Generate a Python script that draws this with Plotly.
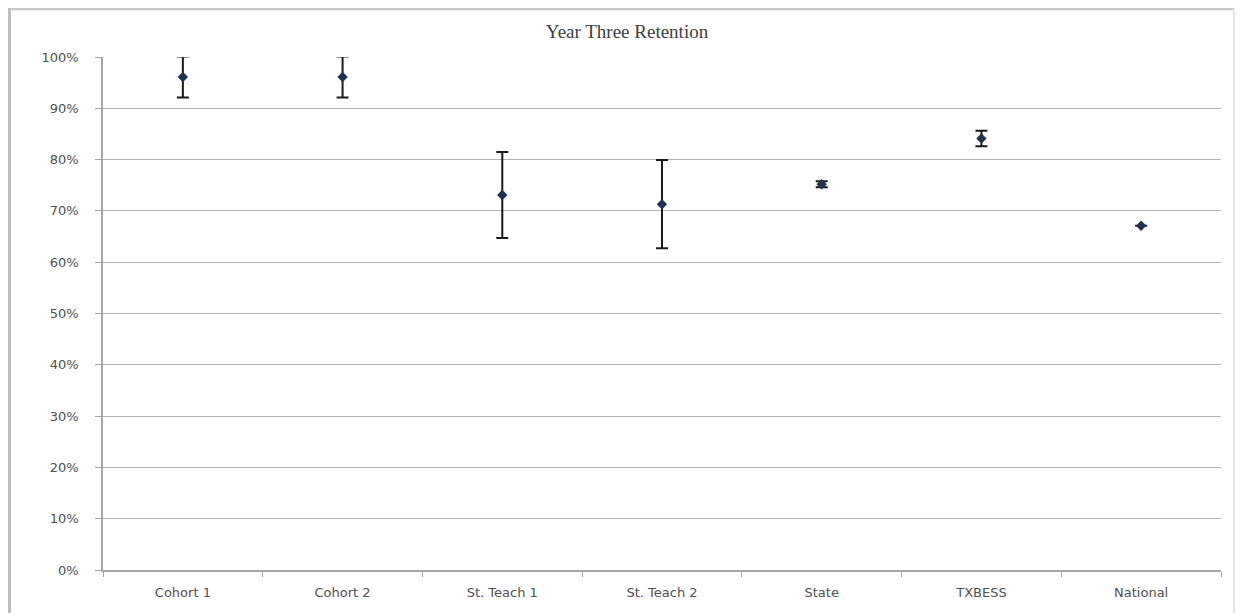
import plotly.graph_objects as go

categories = ["Cohort 1", "Cohort 2", "St. Teach 1", "St. Teach 2", "State", "TXBESS", "National"]
retention = [0.961, 0.961, 0.731, 0.713, 0.752, 0.841, 0.671]
error = [0.040, 0.040, 0.084, 0.086, 0.006, 0.015, 0.0]

fig = go.Figure()
fig.add_trace(go.Scatter(
    x=categories, y=retention, mode="markers",
    marker=dict(symbol="diamond", size=8, color="#1f3350"),
    error_y=dict(type="data", array=error, visible=True, color="#1a1a1a",
                 thickness=2, width=6),
    cliponaxis=False, showlegend=False,
))

OFF = 8  # page body margin
W, H = 1244 - OFF, 613 - OFF
L, R, T, B = 103 - OFF, 1221 - OFF, 57 - OFF, 570 - OFF
pw, ph = R - L, B - T
def fx(x): return (x - L) / pw          # figure px -> paper
def fy(y): return (B - y) / ph

fig.update_layout(
    width=W, height=H,
    margin=dict(l=L, r=W - R, t=T, b=H - B),
    paper_bgcolor="white", plot_bgcolor="white",
    title=dict(text="Year Three Retention", x=(627 - OFF) / W, xanchor="center",
               y=1 - (31 - OFF) / H, yanchor="middle",
               font=dict(family="Liberation Serif", size=19, color="#404040")),
    xaxis=dict(type="category", range=[-0.5, 6.5], showgrid=False,
               showline=True, linecolor="#a6a6a6", linewidth=1.5,
               ticks="outside", tickson="boundaries", ticklen=5, tickcolor="#a6a6a6",
               ticklabelstandoff=10,
               tickfont=dict(family="DejaVu Sans", size=13, color="#505050")),
    yaxis=dict(range=[0, 1], tickformat=".0%", dtick=0.1,
               showgrid=True, gridcolor="#b5b5b5", gridwidth=1.2,
               showline=True, linecolor="#a6a6a6", linewidth=1.5,
               ticks="outside", ticklen=6, tickcolor="#a6a6a6",
               ticklabelstandoff=14,
               zeroline=False,
               tickfont=dict(family="DejaVu Sans", size=13, color="#505050")),
    shapes=[
        dict(type="line", xref="paper", yref="paper", x0=fx(0), x1=fx(1226), y0=fy(1), y1=fy(1),
             line=dict(color="#c8c8c8", width=2.5)),
        dict(type="line", xref="paper", yref="paper", x0=fx(1.5), x1=fx(1.5), y0=fy(0), y1=fy(H),
             line=dict(color="#bdbdbd", width=3)),
        dict(type="line", xref="paper", yref="paper", x0=fx(1226), x1=fx(1226), y0=fy(0), y1=fy(H),
             line=dict(color="#e6e6e6", width=2)),
    ],
)

fig.write_html("out.html")
